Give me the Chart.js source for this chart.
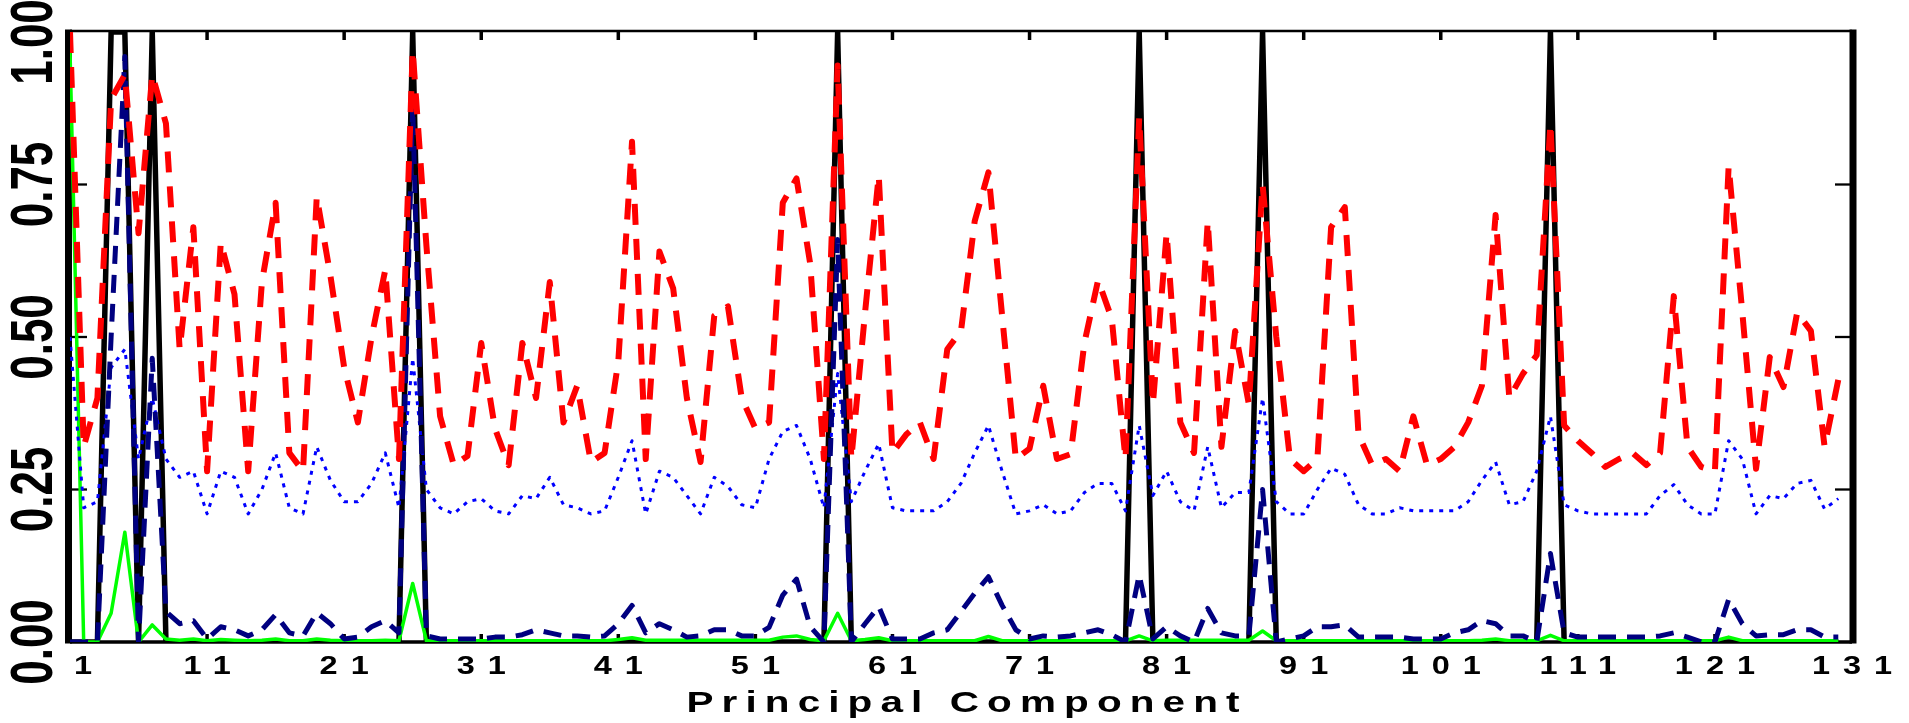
<!DOCTYPE html>
<html>
<head>
<meta charset="utf-8">
<script src="https://cdn.jsdelivr.net/npm/chart.js@4"></script>
<style>
  html, body { margin: 0; padding: 0; background: #fff; }
  canvas { display: block; }
</style>
</head>
<body>
<canvas id="chart" width="1909" height="723"></canvas>
<script>
// principal component numbers 1..130 (x axis runs to 131)
const components = Array.from({ length: 130 }, (_, i) => i + 1);

const xTicks = [1, 11, 21, 31, 41, 51, 61, 71, 81, 91, 101, 111, 121, 131];
const yTicks = [0, 0.25, 0.5, 0.75, 1];
const yTickLabels = ['0.00', '0.25', '0.50', '0.75', '1.00'];
const xTitle = 'Principal Component';

// black solid: selected components
const selected = [
  0, 0, 0, 1, 1, 0, 1, 0, 0, 0,   0, 0, 0, 0, 0, 0, 0, 0, 0, 0,
  0, 0, 0, 0, 0, 1, 0, 0, 0, 0,   0, 0, 0, 0, 0, 0, 0, 0, 0, 0,
  0, 0, 0, 0, 0, 0, 0, 0, 0, 0,   0, 0, 0, 0, 0, 0, 1, 0, 0, 0,
  0, 0, 0, 0, 0, 0, 0, 0, 0, 0,   0, 0, 0, 0, 0, 0, 0, 0, 1, 0,
  0, 0, 0, 0, 0, 0, 0, 1, 0, 0,   0, 0, 0, 0, 0, 0, 0, 0, 0, 0,
  0, 0, 0, 0, 0, 0, 0, 0, 1, 0,   0, 0, 0, 0, 0, 0, 0, 0, 0, 0,
  0, 0, 0, 0, 0, 0, 0, 0, 0, 0
];

// red dashed
const redSeries = [
  1.00, 0.32, 0.40, 0.89, 0.93, 0.67, 0.93, 0.85, 0.48, 0.68,
  0.28, 0.655, 0.57, 0.28, 0.59, 0.72, 0.31, 0.28, 0.73, 0.60,
  0.45, 0.36, 0.50, 0.61, 0.30, 0.97, 0.65, 0.37, 0.29, 0.305,
  0.49, 0.35, 0.29, 0.49, 0.40, 0.59, 0.36, 0.42, 0.295, 0.31,
  0.46, 0.82, 0.30, 0.64, 0.58, 0.40, 0.295, 0.535, 0.55, 0.40,
  0.35, 0.36, 0.72, 0.76, 0.62, 0.30, 0.945, 0.30, 0.54, 0.765,
  0.31, 0.34, 0.36, 0.30, 0.48, 0.51, 0.69, 0.77, 0.535, 0.30,
  0.317, 0.42, 0.30, 0.308, 0.49, 0.593, 0.53, 0.30, 0.86, 0.39,
  0.67, 0.36, 0.31, 0.69, 0.32, 0.51, 0.39, 0.75, 0.50, 0.30,
  0.28, 0.30, 0.68, 0.713, 0.34, 0.29, 0.30, 0.28, 0.37, 0.29,
  0.30, 0.32, 0.36, 0.42, 0.70, 0.40, 0.44, 0.47, 0.85, 0.355,
  0.33, 0.31, 0.287, 0.30, 0.31, 0.29, 0.31, 0.567, 0.32, 0.287,
  0.28, 0.78, 0.54, 0.284, 0.467, 0.418, 0.54, 0.51, 0.32, 0.43
];

// blue dotted
const blueSeries = [
  0.50, 0.22, 0.23, 0.45, 0.48, 0.30, 0.40, 0.30, 0.27, 0.28,
  0.21, 0.28, 0.27, 0.21, 0.25, 0.31, 0.22, 0.21, 0.32, 0.265,
  0.23, 0.23, 0.26, 0.31, 0.22, 0.465, 0.25, 0.22, 0.21, 0.23,
  0.235, 0.215, 0.21, 0.24, 0.235, 0.27, 0.225, 0.22, 0.21, 0.215,
  0.27, 0.33, 0.21, 0.28, 0.27, 0.24, 0.21, 0.27, 0.255, 0.225,
  0.22, 0.30, 0.345, 0.355, 0.30, 0.22, 0.44, 0.23, 0.28, 0.325,
  0.22, 0.215, 0.215, 0.215, 0.23, 0.26, 0.31, 0.355, 0.28, 0.21,
  0.215, 0.225, 0.21, 0.215, 0.245, 0.26, 0.26, 0.215, 0.355, 0.24,
  0.28, 0.23, 0.215, 0.32, 0.22, 0.245, 0.245, 0.40, 0.23, 0.21,
  0.21, 0.25, 0.285, 0.275, 0.225, 0.21, 0.21, 0.22, 0.215, 0.215,
  0.215, 0.215, 0.23, 0.265, 0.295, 0.225, 0.23, 0.28, 0.37, 0.225,
  0.215, 0.21, 0.21, 0.21, 0.21, 0.21, 0.24, 0.258, 0.225, 0.21,
  0.21, 0.33, 0.30, 0.21, 0.24, 0.235, 0.26, 0.265, 0.218, 0.235
];

// navy dashed
const navySeries = [
  0.00, 0.00, 0.00, 0.50, 0.96, 0.00, 0.465, 0.05, 0.03, 0.035,
  0.005, 0.025, 0.02, 0.01, 0.02, 0.045, 0.015, 0.01, 0.048, 0.03,
  0.005, 0.008, 0.025, 0.035, 0.015, 0.88, 0.01, 0.005, 0.005, 0.005,
  0.005, 0.008, 0.008, 0.012, 0.02, 0.015, 0.01, 0.01, 0.008, 0.01,
  0.03, 0.06, 0.015, 0.03, 0.02, 0.008, 0.01, 0.02, 0.02, 0.01,
  0.01, 0.024, 0.077, 0.103, 0.025, 0.00, 0.66, 0.00, 0.03, 0.058,
  0.005, 0.005, 0.005, 0.015, 0.02, 0.05, 0.08, 0.107, 0.06, 0.02,
  0.005, 0.01, 0.008, 0.01, 0.015, 0.02, 0.012, 0.00, 0.11, 0.005,
  0.025, 0.01, 0.00, 0.055, 0.015, 0.01, 0.01, 0.25, 0.00, 0.005,
  0.01, 0.025, 0.025, 0.028, 0.008, 0.008, 0.008, 0.008, 0.005, 0.005,
  0.005, 0.015, 0.02, 0.035, 0.03, 0.01, 0.01, 0.00, 0.145, 0.015,
  0.008, 0.008, 0.008, 0.008, 0.008, 0.008, 0.01, 0.015, 0.008, 0.00,
  0.00, 0.07, 0.03, 0.01, 0.012, 0.012, 0.02, 0.02, 0.008, 0.008
];

// green solid
const greenSeries = [
  0.97, 0.00, 0.00, 0.047, 0.18, 0.00, 0.028, 0.005, 0.003, 0.005,
  0.002, 0.004, 0.003, 0.002, 0.003, 0.005, 0.002, 0.002, 0.005, 0.003,
  0.002, 0.002, 0.002, 0.003, 0.002, 0.096, 0.002, 0.002, 0.002, 0.002,
  0.002, 0.002, 0.002, 0.002, 0.002, 0.002, 0.002, 0.002, 0.002, 0.002,
  0.004, 0.007, 0.003, 0.003, 0.003, 0.003, 0.003, 0.003, 0.003, 0.003,
  0.003, 0.003, 0.008, 0.01, 0.004, 0.002, 0.047, 0.002, 0.004, 0.007,
  0.002, 0.002, 0.002, 0.002, 0.002, 0.002, 0.002, 0.009, 0.002, 0.002,
  0.002, 0.002, 0.002, 0.002, 0.002, 0.002, 0.002, 0.002, 0.01, 0.002,
  0.003, 0.003, 0.003, 0.003, 0.003, 0.003, 0.003, 0.018, 0.002, 0.002,
  0.002, 0.002, 0.002, 0.002, 0.002, 0.002, 0.002, 0.002, 0.002, 0.002,
  0.002, 0.002, 0.002, 0.003, 0.005, 0.002, 0.002, 0.002, 0.011, 0.002,
  0.002, 0.002, 0.002, 0.002, 0.002, 0.002, 0.002, 0.002, 0.002, 0.002,
  0.002, 0.008, 0.002, 0.002, 0.002, 0.002, 0.002, 0.002, 0.002, 0.002
];

function toPoints(values) {
  return values.map((v, i) => ({ x: components[i], y: v }));
}

// draw a text string centred at (x, y), optionally rotated and stretched
function drawText(ctx, text, x, y, o) {
  ctx.save();
  ctx.translate(x, y);
  if (o.rot) ctx.rotate(o.rot);
  ctx.scale(o.sx || 1, o.sy || 1);
  ctx.font = o.font;
  ctx.letterSpacing = (o.ls || 0) + 'px';
  ctx.fillStyle = '#000';
  ctx.textAlign = 'center';
  ctx.textBaseline = 'middle';
  ctx.fillText(text, (o.ls || 0) / 2, 0);
  ctx.restore();
}

function seg(ctx, x1, y1, x2, y2) {
  ctx.beginPath();
  ctx.moveTo(x1, y1);
  ctx.lineTo(x2, y2);
  ctx.stroke();
}

const framePlugin = {
  id: 'frame',
  beforeDatasetsDraw(chart) {
    const { ctx, chartArea: a, scales: { x, y } } = chart;
    ctx.save();
    ctx.strokeStyle = '#000';
    ctx.lineCap = 'butt';

    ctx.lineWidth = 2.5;
    seg(ctx, a.left, a.top - 1, a.right, a.top - 1);
    ctx.lineWidth = 3.5;
    seg(ctx, a.left, a.bottom, a.right, a.bottom);
    ctx.lineWidth = 7;
    seg(ctx, a.left - 1.5, a.top - 2.5, a.left - 1.5, a.bottom + 1.5);
    seg(ctx, a.right + 1, a.top - 2.5, a.right + 1, a.bottom + 1.5);

    // inward ticks
    ctx.lineWidth = 3.5;
    xTicks.forEach(v => {
      if (v === x.min || v === x.max) return;
      const px = x.getPixelForValue(v);
      seg(ctx, px, a.top, px, a.top + 8);
      seg(ctx, px, a.bottom, px, a.bottom - 8);
    });
    ctx.lineWidth = 2.3;
    yTicks.forEach(v => {
      if (v === y.min || v === y.max) return;
      const py = y.getPixelForValue(v);
      seg(ctx, a.left, py, a.left + 17, py);
      seg(ctx, a.right - 17, py, a.right, py);
    });
    ctx.restore();
  },
  afterDraw(chart) {
    const { ctx, chartArea: a, scales: { x, y } } = chart;
    xTicks.forEach(v => {
      // the first label sits clear of the heavy left axis
      const shift = v === x.min ? 13 : 0;
      drawText(ctx, String(v), x.getPixelForValue(v) + shift, 667,
        { font: 'bold 25px "Liberation Sans"', sx: 1.3, ls: 10 });
    });
    yTicks.forEach((v, i) => {
      let py = y.getPixelForValue(v);
      py = Math.max(py, 42);
      drawText(ctx, yTickLabels[i], 36, py,
        { font: 'bold 44px "Liberation Sans"', rot: -Math.PI / 2, sy: 1.35 });
    });
    drawText(ctx, xTitle, (a.left + a.right) / 2 + 2, 704,
      { font: 'bold 30px "Liberation Sans"', sx: 1.35, ls: 6 });
  }
};

new Chart(document.getElementById('chart').getContext('2d'), {
  type: 'line',
  data: {
    datasets: [
      {
        label: 'red', data: toPoints(redSeries), order: 0,
        borderColor: '#ff0000', borderWidth: 6, borderDash: [21, 14]
      },
      {
        label: 'navy', data: toPoints(navySeries), order: 1,
        borderColor: '#000080', borderWidth: 5, borderDash: [18, 11]
      },
      {
        label: 'blue', data: toPoints(blueSeries), order: 2,
        borderColor: '#0000ff', borderWidth: 3, borderDash: [4, 6]
      },
      {
        label: 'green', data: toPoints(greenSeries), order: 3,
        borderColor: '#00ff00', borderWidth: 3.5
      },
      {
        label: 'black', data: toPoints(selected), order: 4, clip: 0,
        borderColor: '#000000', borderWidth: 5.5
      }
    ]
  },
  options: {
    responsive: false,
    animation: false,
    devicePixelRatio: 1,
    layout: { padding: { left: 70, right: 57, top: 32, bottom: 81 } },
    elements: {
      point: { radius: 0 },
      line: { tension: 0, fill: false, borderCapStyle: 'butt', borderJoinStyle: 'round' }
    },
    scales: {
      x: { type: 'linear', min: 1, max: 131, display: false },
      y: { type: 'linear', min: 0, max: 1, display: false }
    },
    plugins: {
      legend: { display: false },
      tooltip: { enabled: false }
    }
  },
  plugins: [framePlugin]
});
</script>
</body>
</html>
